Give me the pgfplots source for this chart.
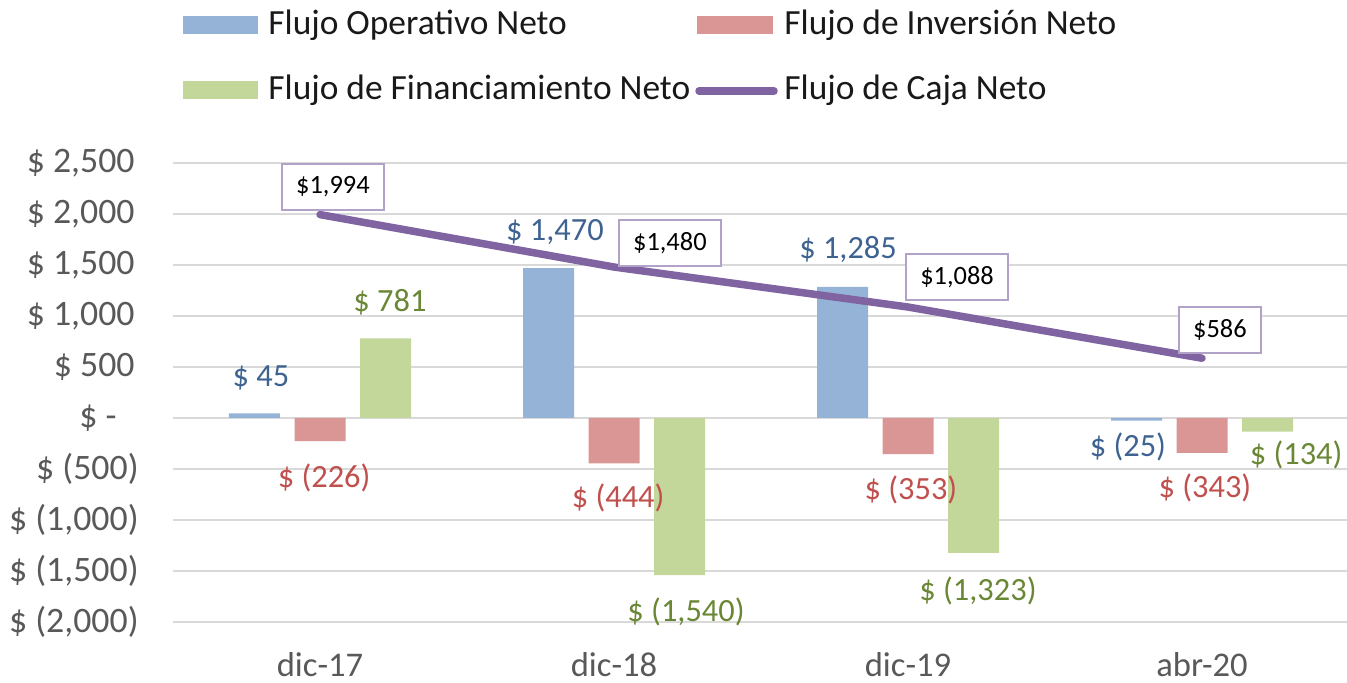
\documentclass[border=0pt]{standalone}
\usepackage{fontspec}
\setmainfont{Carlito}
\usepackage{pgfplots}
\pgfplotsset{compat=1.18}
\definecolor{cBlue}{HTML}{95B3D7}
\definecolor{cRed}{HTML}{DA9694}
\definecolor{cGreen}{HTML}{C4D79B}
\definecolor{cLine}{HTML}{8064A2}
\definecolor{cBox}{HTML}{B3A2C7}
\definecolor{tBlue}{HTML}{3E6391}
\definecolor{tRed}{HTML}{C0504D}
\definecolor{tGreen}{HTML}{6A8736}
\definecolor{tGray}{HTML}{595959}
\definecolor{cGrid}{HTML}{D9D9D9}
\begin{document}
\begin{tikzpicture}
\begin{axis}[
  at={(0,0)}, anchor=south west,
  scale only axis, width=588pt, height=229.5pt,
  xmin=-0.5, xmax=3.5, ymin=-2000, ymax=2500,
  xtick={0,1,2,3}, xticklabels={dic-17,dic-18,dic-19,abr-20},
  ytick={-2000,-1500,...,2500},
  yticklabels={{\$ (2,000)},{\$ (1,500)},{\$ (1,000)},{\$ (500)},{\$ -\kern11pt},{\$ 500\kern2pt},{\$ 1,000\kern2pt},{\$ 1,500\kern2pt},{\$ 2,000\kern2pt},{\$ 2,500\kern2pt}},
  ymajorgrids, grid style={cGrid, line width=1pt},
  axis line style={draw=none}, major tick length=0pt, tick style={draw=none},
  tick label style={text=tGray},
  xticklabel style={font=\fontsize{17.3}{20}\selectfont, anchor=base, inner sep=0pt, yshift=-27.5pt},
  yticklabel style={font=\fontsize{17.9}{21}\selectfont, anchor=east, inner sep=0pt, xshift=-17pt},
  clip=false,
]
\addplot[ybar, bar width=25.5pt, bar shift=-32.75pt, fill=cBlue, draw=none] coordinates {(0,45) (1,1470) (2,1285) (3,-25)};
\addplot[ybar, bar width=25.5pt, bar shift=0pt, fill=cRed, draw=none] coordinates {(0,-226) (1,-444) (2,-353) (3,-343)};
\addplot[ybar, bar width=25.5pt, bar shift=32.75pt, fill=cGreen, draw=none] coordinates {(0,781) (1,-1540) (2,-1323) (3,-134)};
\addplot[cLine, line width=3.75pt, line cap=round, mark=none] coordinates {(0,1994) (1,1480) (2,1088) (3,586)};

\begin{scope}[every node/.style={font=\fontsize{16.2}{19}\selectfont, inner sep=0pt}]
\node[text=tBlue] at (axis cs:-0.201,392) {\$ 45};
\node[text=tBlue] at (axis cs:0.799,1824) {\$ 1,470};
\node[text=tBlue] at (axis cs:1.796,1647) {\$ 1,285};
\node[text=tBlue] at (axis cs:2.748,-284) {\$ (25)};
\node[text=tRed] at (axis cs:0.014,-588) {\$ (226)};
\node[text=tRed] at (axis cs:1.014,-784) {\$ (444)};
\node[text=tRed] at (axis cs:2.010,-706) {\$ (353)};
\node[text=tRed] at (axis cs:3.010,-686) {\$ (343)};
\node[text=tGreen] at (axis cs:0.238,1137) {\$ 781};
\node[text=tGreen] at (axis cs:1.245,-1902) {\$ (1,540)};
\node[text=tGreen] at (axis cs:2.238,-1696) {\$ (1,323)};
\node[text=tGreen] at (axis cs:3.320,-363) {\$ (134)};
\end{scope}
\begin{scope}[every node/.style={draw=cBox, line width=1.1pt, fill=white, font=\fontsize{13.2}{16}\selectfont, text=black, inner xsep=7pt, minimum height=23pt}]
\node at (axis cs:0.044,2265) {\$1,994};
\node at (axis cs:1.190,1716) {\$1,480};
\node at (axis cs:2.167,1382) {\$1,088};
\node at (axis cs:3.061,863) {\$586};
\end{scope}
\end{axis}
% legend
\begin{scope}[every node/.style={font=\fontsize{17.7}{21}\selectfont, text=black!90, inner sep=0pt, anchor=base west}]
\fill[cBlue] (5pt,294pt) rectangle (42.5pt,303pt);
\node at (47.5pt,293.5pt) {Flujo Operativo Neto};
\fill[cRed] (262pt,294pt) rectangle (300pt,303pt);
\node at (305.5pt,293.5pt) {Flujo de Inversión Neto};
\fill[cGreen] (5pt,261.5pt) rectangle (42.5pt,270.5pt);
\node at (47.5pt,261pt) {Flujo de Financiamiento Neto};
\draw[cLine, line width=3.75pt, line cap=round] (263pt,265.5pt) -- (300.5pt,265.5pt);
\node at (305.5pt,261pt) {Flujo de Caja Neto};
\end{scope}
\pgfresetboundingbox
\path[use as bounding box] (-86.5pt,-30.5pt) rectangle (587pt,311pt);
\end{tikzpicture}
\end{document}
